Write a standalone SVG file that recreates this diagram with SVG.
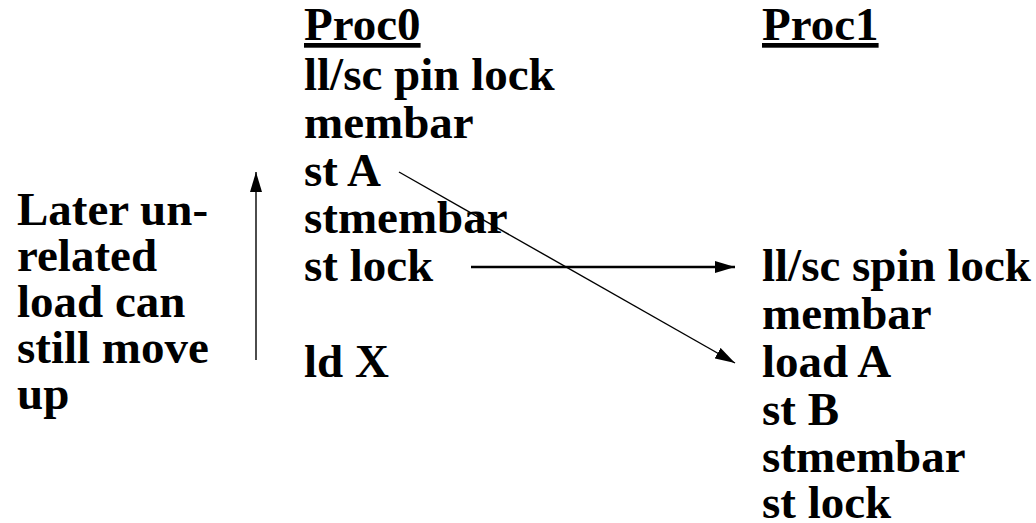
<svg xmlns="http://www.w3.org/2000/svg" width="1036" height="523" viewBox="0 0 1036 523">
  <style>
    .t { font-family: 'Liberation Serif', 'Times New Roman', Times, serif; font-weight: 700; font-size: 47px; fill: #000; }
    .head { text-decoration: underline; }
    .conn { stroke: #000; fill: none; }
  </style>
  <defs>
    <marker id="arrow" markerUnits="userSpaceOnUse" viewBox="0 0 20 12" refX="20" refY="6" markerWidth="20" markerHeight="12" orient="auto">
      <path d="M0,0 L20,6 L0,12 Z" fill="#000"/>
    </marker>
  </defs>
  <rect width="1036" height="523" fill="#fff"/>

  <!-- side note -->
  <g id="note" class="t">
    <text x="17" y="225">Later un-</text>
    <text x="17" y="271">related</text>
    <text x="17" y="317">load can</text>
    <text x="17" y="363">still move</text>
    <text x="17" y="409">up</text>
  </g>

  <!-- processor 0 instruction stream -->
  <g id="proc0" class="t">
    <text class="head" x="304" y="40">Proc0</text>
    <text x="304" y="90">ll/sc pin lock</text>
    <text x="304" y="138">membar</text>
    <text x="304" y="186">st A</text>
    <text x="304" y="233">stmembar</text>
    <text x="304" y="281">st lock</text>
    <text x="304" y="377">ld X</text>
  </g>

  <!-- processor 1 instruction stream -->
  <g id="proc1" class="t">
    <text class="head" x="762" y="40">Proc1</text>
    <text x="762" y="281">ll/sc spin lock</text>
    <text x="762" y="329">membar</text>
    <text x="762" y="377">load A</text>
    <text x="762" y="425">st B</text>
    <text x="762" y="472">stmembar</text>
    <text x="762" y="518">st lock</text>
  </g>

  <!-- ordering arrows -->
  <g id="connectors">
    <line class="conn" x1="256" y1="360" x2="256" y2="172" stroke-width="1.4" marker-end="url(#arrow)"/>
    <line class="conn" x1="471" y1="267" x2="735" y2="267" stroke-width="2.4" marker-end="url(#arrow)"/>
    <line class="conn" x1="399" y1="172" x2="735" y2="363" stroke-width="1.4" marker-end="url(#arrow)"/>
  </g>
</svg>
